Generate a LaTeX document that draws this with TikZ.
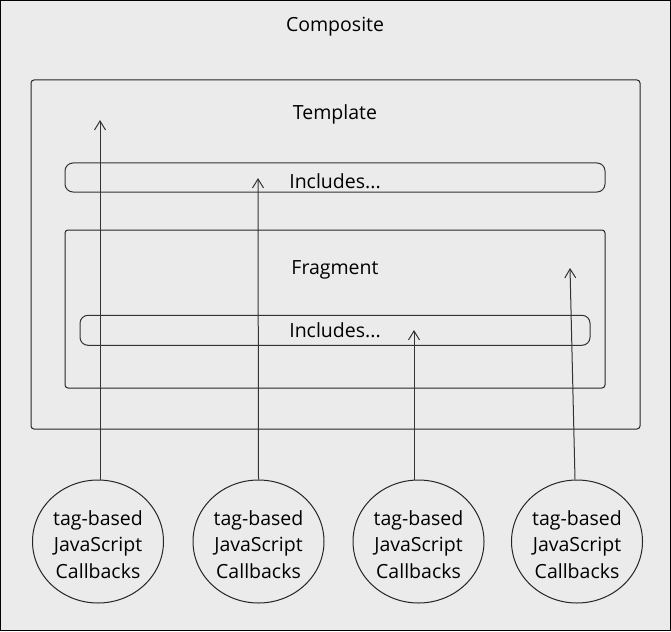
\documentclass[tikz,border=0pt]{standalone}
\usepackage{fontspec}
\setmainfont{Open Sans}
\usetikzlibrary{arrows.meta,shapes.geometric,positioning}

\begin{document}
\begin{tikzpicture}[x=1pt,y=-1pt,->,>={Straight Barb[length=9pt,width=11pt]},line width=1pt,
    font=\fontsize{19.5}{26.5}\selectfont]
  \tikzstyle{frame}=[draw=black!85,rounded corners=3pt,inner sep=0pt]
  \tikzstyle{incl}=[draw=black!80,rounded corners=8pt,inner sep=0pt]
  \tikzstyle{cb}=[draw=black!85,ellipse,minimum width=131pt,minimum height=123pt,inner sep=0pt,
    align=center,text height=73pt,text depth=0pt]
  \tikzstyle{ttl}=[inner sep=0pt,anchor=base]
  \tikzstyle{link}=[draw=black!80]

  \useasboundingbox (0,0) rectangle (671,631);
  \draw[-,fill=black!8,draw=black] (0.5,0.5) rectangle (670.5,630.5);

  \node[ttl] (composite) at (335,32) {Composite};

  \node[frame,minimum width=609pt,minimum height=349pt] (template) at (335.5,254.5) {};
  \node[ttl] (templatettl) at (335,120) {Template};
  \node[incl,minimum width=540pt,minimum height=29pt] (incl1) at (335,177.5) {};
  \node[ttl] (incl1ttl) at (335,188) {Includes...};

  \node[frame,minimum width=540pt,minimum height=158pt] (fragment) at (335,309) {};
  \node[ttl] (fragmentttl) at (335,274) {Fragment};
  \node[incl,minimum width=510pt,minimum height=30pt] (incl2) at (335,330.3) {};
  \node[ttl] (incl2ttl) at (335,337) {Includes...};

  \node[cb] (cb1) at (98,541.5) {tag-based\\JavaScript\\Callbacks};
  \node[cb] (cb2) at (258.5,541.5) {tag-based\\JavaScript\\Callbacks};
  \node[cb] (cb3) at (418.5,541.5) {tag-based\\JavaScript\\Callbacks};
  \node[cb] (cb4) at (577,541.5) {tag-based\\JavaScript\\Callbacks};

  \coordinate (t1) at (100,120);
  \coordinate (t2) at (258,178);
  \coordinate (t3) at (414,330);
  \coordinate (t4) at (570,268);

  \path
    ([xshift=2pt]cb1.north) edge[link] (t1)
    (cb2.north) edge[link] (t2)
    ([xshift=-4.5pt]cb3.north) edge[link] (t3)
    ([xshift=-2pt]cb4.north) edge[link] (t4);
\end{tikzpicture}
\end{document}
